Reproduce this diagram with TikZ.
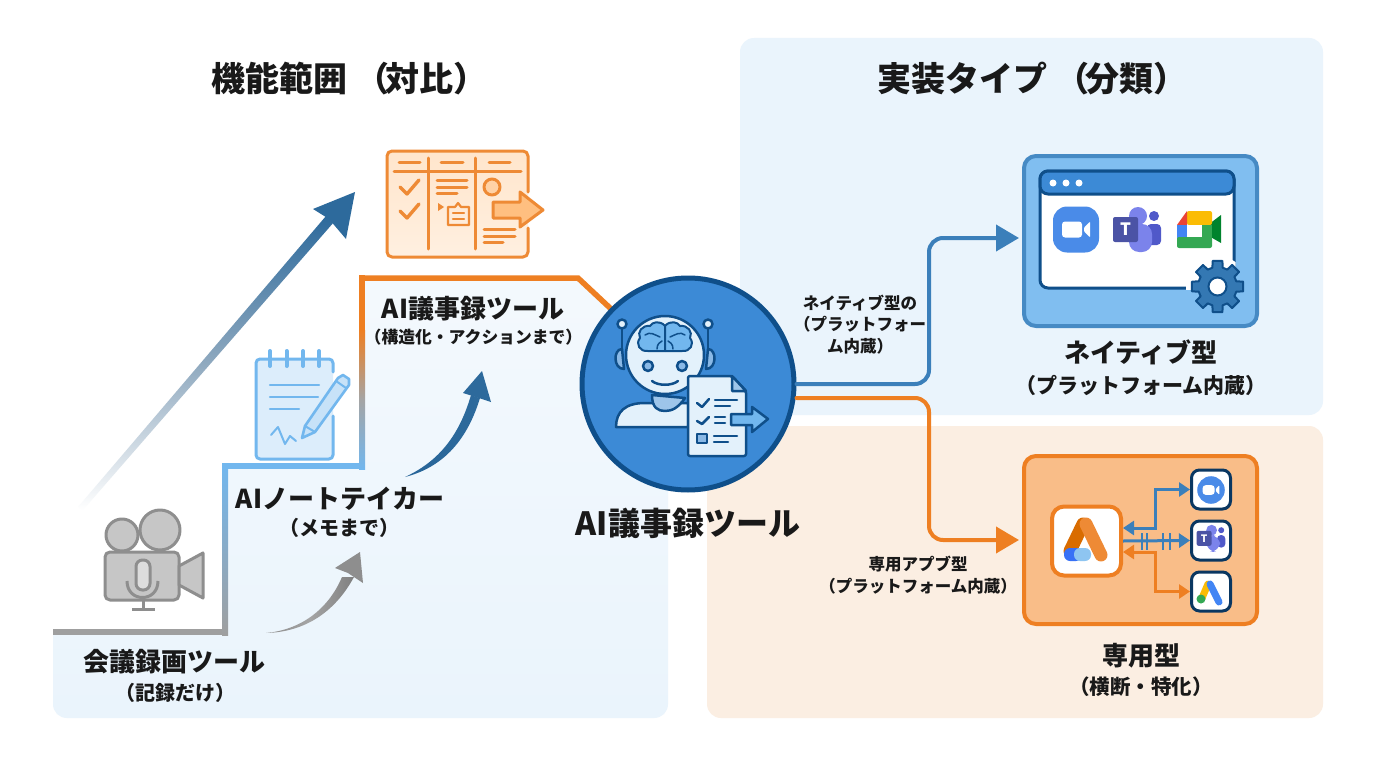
\documentclass[tikz,border=0pt]{standalone}
\usepackage{fontspec}
\setmainfont{Noto Sans CJK JP}
\usetikzlibrary{arrows.meta,calc}
\definecolor{org}{HTML}{EE7F22}
\definecolor{orgl}{HTML}{EE8A35}
\definecolor{skyl}{HTML}{72B7EE}
\definecolor{navy}{HTML}{0F4F8A}
\definecolor{steel}{HTML}{3B7FBA}
\definecolor{dsteel}{HTML}{2D6A9C}
\definecolor{msteel}{HTML}{8FA9BF}
\definecolor{gry}{HTML}{8E8E8E}
\definecolor{hubf}{HTML}{3C8AD6}
\definecolor{pale}{HTML}{E3F1FB}
\definecolor{panelb}{HTML}{EAF4FC}
\definecolor{panelo}{HTML}{FBEEE2}
\definecolor{dedf}{HTML}{F9BD88}
\definecolor{teamsa}{HTML}{4B53A5}
\definecolor{teamsb}{HTML}{7B83EB}
\definecolor{teamsc}{HTML}{5059C9}
\definecolor{zoomb}{HTML}{4A8BE8}
\definecolor{gblue}{HTML}{4285F4}
\definecolor{ggreen}{HTML}{34A853}
\definecolor{gyellow}{HTML}{FBBC04}
\definecolor{gred}{HTML}{EA4335}
\definecolor{gdark}{HTML}{00832D}
\newcommand{\fsz}[1]{\fontsize{#1}{#1}\selectfont}
\tikzset{
  x=1pt,y=-1pt,
  lab/.style={font=\bfseries,align=center,inner sep=0pt,text=black!90},
  headA/.style={lab,font=\fsz{34}\bfseries,anchor=west},
  headB/.style={lab,font=\fsz{26}\bfseries},
  subB/.style={lab,font=\fsz{20}\bfseries},
  small/.style={inner sep=0pt,align=center,text=black!90,font=\fsz{16.5}\bfseries},
  bluearrow/.style={draw=steel,line width=4pt,-{Triangle[length=23pt,width=26pt]},rounded corners=14pt,line cap=round},
  orgarrow/.style={draw=org,line width=4pt,-{Triangle[length=23pt,width=26pt]},rounded corners=14pt,line cap=round},
  minib/.style={draw=steel,line width=3pt,{Triangle[length=11pt,width=14pt]}-{Triangle[length=11pt,width=14pt]}},
  minio/.style={draw=org,line width=3pt,{Triangle[length=11pt,width=14pt]}-{Triangle[length=11pt,width=14pt]}},
  hubnode/.style={circle,draw=navy,line width=5pt,fill=hubf,minimum size=212pt,inner sep=0pt},
  tile/.style={draw=#1,fill=white,line width=3pt,rounded corners=8pt,minimum size=39pt,inner sep=0pt},
  robot/.style={draw=navy,line width=2.5pt,line join=round,line cap=round},
  kan/.style={draw=orgl,line width=3pt,line cap=round,line join=round},
  noteb/.style={draw=skyl,line width=3pt,line cap=round,line join=round},
  zoomicon/.pic={
    \fill[zoomb,rounded corners=14pt] (-23,-23) rectangle (23,23);
    \fill[white,rounded corners=3pt] (-14,-8) rectangle (6,8);
    \fill[white,rounded corners=1pt] (8,-2) -- (14,-8) -- (14,8) -- (8,2) -- cycle;
  },
  teamsicon/.pic={
    \fill[teamsc] (17,-18) circle[radius=5];
    \fill[teamsc,rounded corners=4pt] (10,-10) rectangle (24,11);
    \fill[teamsb,rounded corners=10pt] (-8,-10) rectangle (15,18);
    \fill[teamsb] (1,-18) circle[radius=9];
    \fill[teamsa,rounded corners=2pt] (-24,-17) rectangle (1,8);
    \node[text=white,font=\fsz{17}\bfseries,inner sep=0pt] (t) at (-11.5,-4.5) {T};
  }
}
\begin{document}
\begin{tikzpicture}
\useasboundingbox (0,0) rectangle (1376,768);
\fill[white] (0,0) rectangle (1376,768);
% panels
\shade[top color=panelb!55!white,bottom color=panelb] (53,632) -- (225,632) -- (225,466) -- (362,466) -- (362,278) -- (578,278) -- (668,362) -- (668,704) .. controls (668,712) and (662,718) .. (654,718) -- (67,718) .. controls (59,718) and (53,712) .. (53,704) -- cycle;
\fill[panelb,rounded corners=14pt] (740,38) rectangle (1323,415);
\fill[panelo,rounded corners=14pt] (707,426) rectangle (1323,718);
% titles
\node[headA] (titleL) at (211,79) {機能範囲\hspace{8pt}（\hspace{-4pt}対比）};
\node[headA] (titleR) at (877,79) {実装タイプ\hspace{8pt}（\hspace{-4pt}分類）};
% stairs
\fill[gry!85!white] (53,629) rectangle (228,635);
\shade[top color=skyl,bottom color=gry!85!white] (222,466) rectangle (228,635);
\fill[skyl] (222,463) rectangle (365,469);
\shade[top color=org,bottom color=skyl,middle color=gry!80!white] (359,330) rectangle (365,469);
\fill[org] (359,275) rectangle (365,331);
\draw[org,line width=5.5pt,line join=miter] (362,278) -- (578,278) -- (625,322);
% long diagonal arrow
\shade[bottom color=white,top color=dsteel,middle color=msteel] (78,507) -- (83,510) -- (334,222) -- (326,216) -- cycle;
\fill[dsteel] (355,192) -- (313,209) -- (329,219) -- (346,239) -- cycle;
% kanban icon
\shade[top color=orange!20!white,bottom color=orange!12!white,rounded corners=5pt] (387,151) rectangle (528,257);
\draw[kan,rounded corners=5pt] (528,192) -- (528,151) -- (387,151) -- (387,257) -- (528,257) -- (528,228);
\draw[kan] (428,158) -- (428,249) (475,158) -- (475,249) (394,171) -- (521,171);
\draw[kan] (399,162) -- (420,162) (441,162) -- (463,162) (489,162) -- (510,162);
\draw[kan,line width=3.4pt] (400,187) -- (407,194) -- (419,180) (400,211) -- (407,218) -- (419,204);
\draw[kan] (437,180) -- (467,180) (437,187) -- (467,187) (437,193) -- (457,193);
\fill[orgl] (438,203) -- (438,211) -- (444,207) -- cycle;
\draw[kan,line width=2.2pt] (448,207) -- (455,207) -- (458,203) -- (461,207) -- (469,207) -- (469,225) -- (448,225) -- cycle;
\draw[kan,line width=2.2pt] (453,213) -- (464,213) (453,219) -- (464,219);
\draw[kan,fill=orange!35!white] (492,187) circle[radius=8];
\draw[kan] (484,229) -- (515,229) (484,236) -- (515,236) (484,242) -- (503,242);
\draw[kan,fill=orange!50!white,line width=3pt] (493,202) -- (520,202) -- (520,192) -- (543,210) -- (520,227) -- (520,218) -- (493,218) -- cycle;
% notepad icon
\fill[skyl!25!white,rounded corners=4pt] (256,359) rectangle (333,459);
\draw[noteb,rounded corners=4pt] (333,372) -- (333,359) -- (256,359) -- (256,459) -- (333,459) -- (333,416);
\draw[noteb,line width=4pt] (270,351) -- (270,366) (286.5,351) -- (286.5,366) (303,351) -- (303,366) (319,351) -- (319,366);
\draw[noteb,line width=2.4pt] (270,385) -- (319,385) (270,397) -- (318,397) (270,409) -- (299,409);
\draw[noteb,line width=2pt] (271,435) -- (278,427) -- (285,444) -- (290,436) -- (296,441);
\draw[noteb,fill=skyl!40!white,line width=2.6pt] (302,438) -- (305,426) -- (338,378) -- (343,375) -- (349,379) -- (349,385) -- (315,432) -- cycle;
\draw[noteb,line width=2pt] (336,381) -- (346,388) (305,426) -- (315,432);
% camera icon
\begin{scope}[draw=gry,line width=3pt,fill=gry!50!white,line join=round]
\filldraw (122,535) circle[radius=16];
\filldraw (160,530) circle[radius=20];
\filldraw[rounded corners=5pt] (105,552) rectangle (179,600);
\filldraw (179,566) -- (203,553) -- (203,598) -- (179,585) -- cycle;
\filldraw[fill=gry!30!white,rounded corners=6.5pt] (136,560) rectangle (150,590);
\draw (127,581) .. controls (127,603) and (158,603) .. (158,581);
\draw (143,597) -- (143,609) (132,609) -- (155,609);
\end{scope}
% curved tapered arrows
\shade[left color=gry,right color=gry!90!black,middle color=gry!80!white] (266,633) .. controls (300,630) and (328,610) .. (342,577) -- (354,577) .. controls (335,612) and (305,632) .. (266,633) -- cycle;
\fill[gry] (360,552) -- (335,568) -- (348,573) -- (363,583) -- cycle;
\shade[left color=dsteel!80!navy,right color=dsteel] (405,477) .. controls (435,463) and (458,440) .. (471,395) -- (480,398) .. controls (466,444) and (440,468) .. (405,477) -- cycle;
\fill[dsteel] (482,371) -- (463,393) -- (476,397) -- (491,402) -- cycle;
% step labels
\node[headB] (lab3) at (473,309) {AI議事録ツール};
\node[lab,font=\fsz{16.8}\bfseries] (sub3) at (473.5,337) {（構造化・アクションまで）};
\node[headB] (lab2) at (340,499) {AIノートテイカー};
\node[subB] (sub2) at (339,528) {（メモまで）};
\node[headB] (lab1) at (174,662) {会議録画ツール};
\node[subB] (sub1) at (175,693) {（記録だけ）};
% hub
\node[hubnode] (hub) at (688,384) {};
\node[lab,font=\fsz{32}\bfseries] (hubl) at (688,523) {AI議事録ツール};
% robot
\draw[robot] (622,350) -- (622,329) (708,350) -- (708,329);
\draw[robot,fill=pale] (622,324) circle[radius=4.5] (708,324) circle[radius=4.5];
\draw[robot,fill=hubf!60!white] (622,349) .. controls (613,349) and (613,369) .. (624,369) -- cycle;
\draw[robot,fill=hubf!60!white] (708,349) .. controls (717,349) and (717,369) .. (706,369) -- cycle;
\draw[robot,fill=pale] (616,427) .. controls (616,412) and (625,403) .. (645,403) -- (688,403) -- (688,427) -- cycle;
\draw[robot,fill=hubf!50!white] (652,395) .. controls (652,408) and (658,411) .. (665,411) .. controls (672,411) and (678,408) .. (685,398) -- cycle;
\draw[robot,fill=pale] (665,355) circle[radius=39];
\draw[robot,fill=skyl,line width=2pt] (665,326) .. controls (660,320) and (652,322) .. (650,326) .. controls (642,325) and (637,332) .. (640,338) .. controls (635,344) and (640,352) .. (648,351) -- (665,351) -- cycle;
\draw[robot,fill=skyl,line width=2pt] (665,326) .. controls (670,320) and (678,322) .. (680,326) .. controls (688,325) and (693,332) .. (690,338) .. controls (695,344) and (690,352) .. (682,351) -- (665,351) -- cycle;
\draw[robot,line width=1.5pt] (645,335) .. controls (650,331) and (655,335) .. (660,337) (657,349) .. controls (657,344) and (660,342) .. (662,341) (685,335) .. controls (680,331) and (675,335) .. (670,337) (673,349) .. controls (673,344) and (670,342) .. (668,341);
\draw[robot,fill=hubf!60!white] (648,366) circle[radius=5] (682,366) circle[radius=5];
\draw[robot] (652,381) .. controls (658,386) and (672,386) .. (678,381);
% document
\draw[robot,fill=pale,rounded corners=2pt] (688,376) -- (732,376) -- (746,391) -- (746,456) -- (688,456) -- cycle;
\draw[robot,fill=hubf!50!white] (732,376) -- (732,391) -- (746,391) -- cycle;
\draw[robot] (697,403) -- (702,407) -- (709,399) (697,421) -- (702,424) -- (709,417);
\draw[robot] (715,400) -- (737,400) (715,406) -- (730,406) (715,417) -- (725,417) (715,423) -- (725,423) (714,436) -- (737,436) (714,442) -- (728,442);
\draw[robot,fill=hubf!60!white] (697,434) rectangle (707,443);
\draw[robot,fill=skyl] (731,414) -- (752,414) -- (752,407) -- (768,419) -- (752,432) -- (752,425) -- (731,425) -- cycle;
% native box
\node[draw=steel!80!skyl,fill=skyl!90!white,line width=4pt,rounded corners=12pt,minimum width=233pt,minimum height=170pt,inner sep=0pt] (native) at (1140.5,241) {};
\draw[navy,fill=white,line width=3pt,rounded corners=8pt] (1040,171) rectangle (1234,288);
\draw[navy,fill=hubf,line width=3pt,rounded corners=8pt] (1040,194) -- (1040,171) -- (1234,171) -- (1234,194) -- cycle;
\fill[white] (1053,183) circle[radius=3.5] (1066,183) circle[radius=3.5] (1079,183) circle[radius=3.5];
\pic at (1076,229.5) {zoomicon};
\pic at (1137,234) {teamsicon};
\begin{scope}[shift={(1199,230)}]
\fill[gdark] (1,1) -- (22,-15) -- (22,13) -- cycle;
\fill[gyellow,rounded corners=2pt] (-12,-19) rectangle (13,-5);
\fill[gred] (-22,-5) -- (-12,-19) -- (-12,-5) -- cycle;
\fill[gblue] (-22,-5) rectangle (-12,9);
\fill[ggreen,rounded corners=2pt] (-22,7) rectangle (13,18);
\fill[ggreen] (3,-5) rectangle (13,9);
\fill[white] (-12,-5) rectangle (3,7);
\end{scope}
\begin{scope}
\clip (1040,171) rectangle (1235.5,289.5);
\fill[white] (1217,287) circle[radius=31];
\end{scope}
\begin{scope}[shift={(1217.5,286.5)}]
\filldraw[fill=steel!85!navy,draw=navy,line width=2pt,line join=round] (-11:26) \foreach \a in {0,45,...,315}{ -- (\a-11:26) -- (\a+11:26) -- (\a+15:19.5) -- (\a+30:19.5)} -- cycle;
\draw[navy,fill=white,line width=2pt] (0,0) circle[radius=9];
\end{scope}
\node[headB] (nl) at (1141,352) {ネイティブ型};
\node[lab,font=\fsz{21}\bfseries] (nsub) at (1141,385) {（プラットフォーム内蔵）};
% dedicated box
\node[draw=org,fill=dedf,line width=4pt,rounded corners=12pt,minimum width=233pt,minimum height=168pt,inner sep=0pt] (ded) at (1140.5,540) {};
\node[draw=org,fill=white,line width=4pt,rounded corners=12pt,minimum size=69pt,inner sep=0pt] (app) at (1086.5,541) {};
\draw[orange!85!black,line width=13pt,line cap=round] (1083,524) -- (1070,551);
\fill[gblue!85!blue,rounded corners=6pt] (1064,548) rectangle (1082,561);
\fill[skyl!80!white,rounded corners=6pt] (1074,548) rectangle (1091,561);
\draw[orgl,line width=13pt,line cap=round] (1086,524) -- (1101,555);
\node[tile=navy!70!black] (szoom) at (1211,489.5) {};
\node[tile=navy!70!black] (steams) at (1211,540.5) {};
\node[tile=navy!70!black] (sads) at (1211,591.5) {};
\pic[scale=.6,transform shape] at (1211,490) {zoomicon};
\pic[scale=.6,transform shape] at (1211,541) {teamsicon};
\draw[gyellow,line width=7pt,line cap=round] (1208,584) -- (1202,598);
\fill[ggreen] (1201,599) circle[radius=4.5];
\draw[gblue,line width=7pt,line cap=round] (1210,584) -- (1219,602);
\coordinate (zvia) at (1155,508);
\coordinate (avia) at (1155,570);
\draw[minib] ([yshift=13pt]app.east) -| (zvia) |- (szoom.west);
\draw[minio] ([yshift=-11pt]app.east) -| (avia) |- (sads.west);
\draw[steel,line width=2pt] (1142,533) -- (1142,550) (1147,533) -- (1147,550) (1163,533) -- (1163,550) (1170,533) -- (1170,550);
\draw[draw=steel,line width=3pt,-{Triangle[length=11pt,width=14pt]}] (app.east) -- (steams.west);
\node[headB] (dl) at (1141,656) {専用型};
\node[lab,font=\fsz{20.5}\bfseries] (dsub) at (1141,687) {（横断・特化）};
% main connectors
\coordinate (nvia) at (929,311);
\coordinate (dvia) at (929,468);
\draw[bluearrow,shorten >=3pt] (hub.east) -| (nvia) |- ([yshift=3pt]native.west);
\draw[orgarrow,shorten >=3pt] ([yshift=-14pt]hub.east) -| (dvia) |- (ded.west);
\node[small] (lnat) at (860,324.5) {ネイティブ型の\\[5pt]（プラットフォー\\[5pt]ム内蔵）};
\node[small] (lded) at (918,575) {専用アプブ型\\[5.5pt]（プラットフォーム内蔵）};
\end{tikzpicture}
\end{document}
